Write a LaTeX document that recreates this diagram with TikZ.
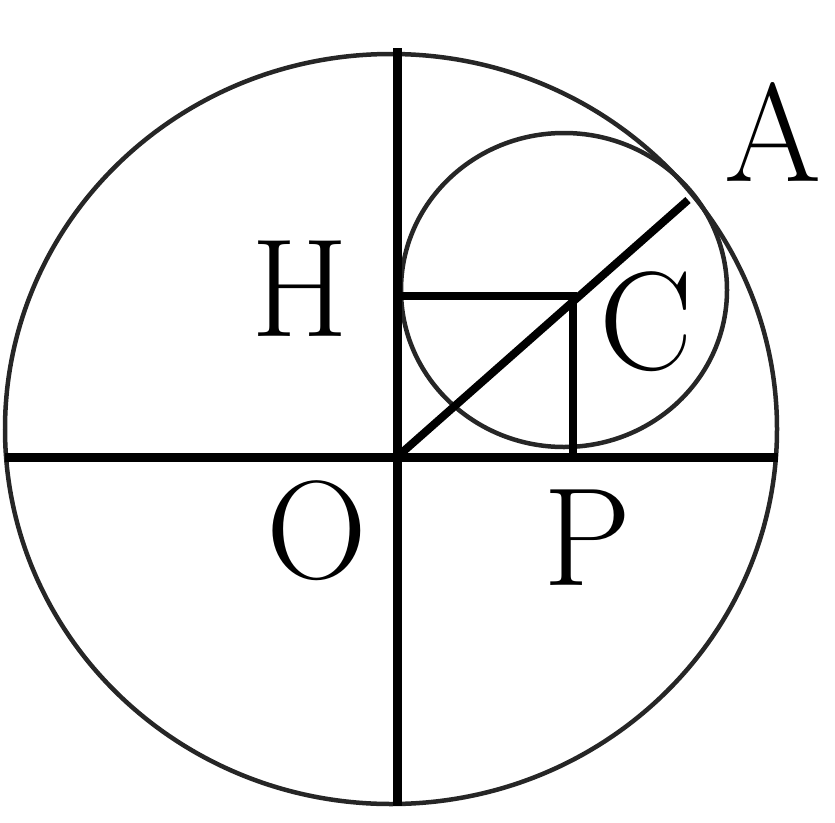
\documentclass[tikz,border=0pt]{standalone}
\usepackage{fontspec}
\usepackage{tikz}
\usetikzlibrary{calc}
\tikzset{
  axisline/.style={line width=9pt},
  chordline/.style={line width=8pt},
  ringline/.style={line width=4.5pt, black!85},
  ptlabel/.style={font=\fontsize{140}{140}\selectfont\addfontfeatures{FakeBold=1.5}, inner sep=0pt}
}

\begin{document}
\begin{tikzpicture}[x=1pt, y=-1pt]
    \useasboundingbox (0,0) rectangle (835,822);

    % points of the figure
    \coordinate (O) at (397,457);
    \coordinate (A) at (688,200);
    \coordinate (C) at (573,296);
    \coordinate (H) at (O |- C);
    \coordinate (P) at (O -| C);
    \coordinate (top) at (397,48);
    \coordinate (bot) at (397,806);
    \coordinate (west) at (5,457);
    \coordinate (east) at (778,457);

    % outer circle
    \draw[ringline] (391,429) ellipse (386pt and 375pt);

    % inner circle round C
    \draw[ringline] (564,290) ellipse (163pt and 157pt);

    % the two diameters
    \draw[axisline] (top) -- (bot);
    \draw[axisline] (west) -- (east);

    % radius O A, and the feet of C
    \draw[chordline] (O) -- (A);
    \draw[chordline] (H) -- (C) -- (P);

    % letters
    \node[ptlabel] (lblA) at (773,132) {A};
    \node[ptlabel] (lblH) at (300,289) {H};
    \node[ptlabel] (lblC) at (646,322) {C};
    \node[ptlabel] (lblO) at (317,531) {O};
    \node[ptlabel] (lblP) at (587,538) {P};

\end{tikzpicture}
\end{document}
